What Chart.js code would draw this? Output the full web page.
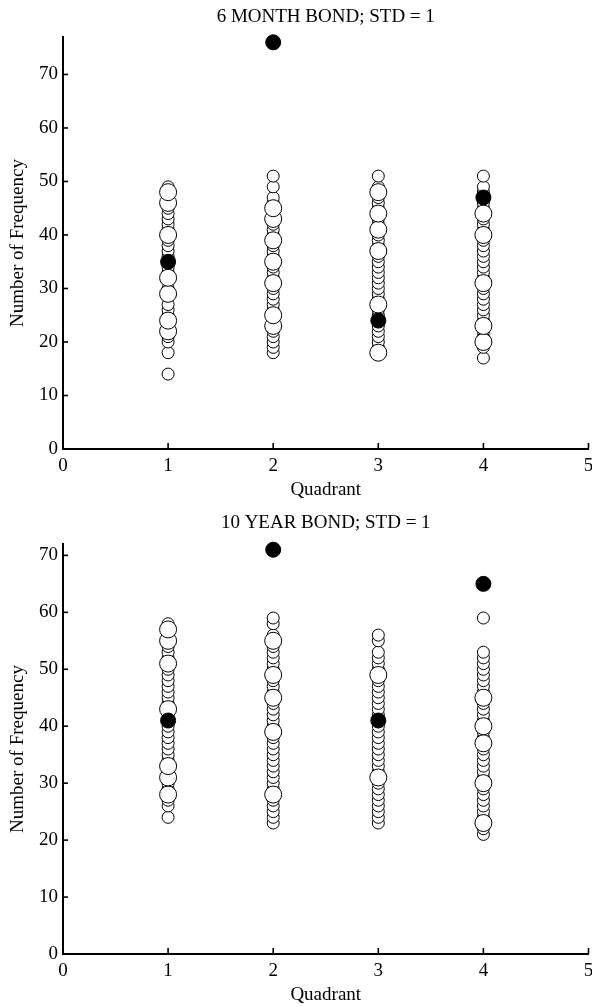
<!DOCTYPE html>
<html>
<head>
<meta charset="utf-8">
<script src="https://cdn.jsdelivr.net/npm/chart.js@4.4.1/dist/chart.umd.min.js"></script>
<style>
  html, body { margin: 0; padding: 0; background: #fff; overflow: hidden; }
  .box { width: 592px; height: 503px; position: relative; overflow: hidden; }
  canvas { display: block; }
</style>
</head>
<body>
<div class="box"><canvas id="c1" width="598" height="503"></canvas></div>
<div class="box"><canvas id="c2" width="598" height="503"></canvas></div>
<script>
// ---------- DATA ----------
const xTicks = [0, 1, 2, 3, 4, 5];
const titles = ['6 MONTH BOND; STD = 1', '10 YEAR BOND; STD = 1'];
const xLabel = 'Quadrant';
const yLabel = 'Number of Frequency';
const yMax6m = 77;
const yMax10y = 72;

// 6 MONTH BOND: values per quadrant (small open, large open, filled)
const m6_q1_small = [14, 18, 20, 21, 23, 25, 26, 27, 29, 30, 32, 33, 34, 36, 37, 38, 39, 41, 42, 43, 44, 45, 47, 48, 49];
const m6_q1_large = [22, 24, 29, 32, 40, 46, 48];
const m6_q1_fill  = [35];
const m6_q2_small = [18, 19, 20, 21, 22, 24, 26, 27, 28, 29, 30, 32, 33, 34, 36, 37, 38, 40, 41, 42, 44, 46, 47, 49, 51];
const m6_q2_large = [23, 25, 31, 35, 39, 43, 45];
const m6_q2_fill  = [76];
const m6_q3_small = [19, 20, 21, 22, 23, 25, 26, 28, 29, 30, 31, 32, 33, 34, 35, 36, 38, 39, 40, 42, 43, 45, 46, 47, 49, 51];
const m6_q3_large = [18, 27, 37, 41, 44, 48];
const m6_q3_fill  = [24];
const m6_q4_small = [17, 19, 21, 22, 24, 25, 26, 27, 28, 29, 30, 32, 33, 34, 35, 36, 37, 38, 39, 41, 42, 43, 45, 46, 48, 49, 51];
const m6_q4_large = [20, 23, 31, 40, 44];
const m6_q4_fill  = [47];

// 10 YEAR BOND
const y10_q1_small = [24, 26, 27, 29, 30, 32, 34, 35, 36, 37, 38, 39, 40, 42, 44, 45, 46, 47, 48, 49, 50, 52, 53, 54, 56, 58];
const y10_q1_large = [28, 31, 33, 43, 51, 55, 57];
const y10_q1_fill  = [41];
const y10_q2_small = [23, 24, 25, 26, 27, 29, 30, 31, 32, 33, 34, 35, 36, 37, 38, 40, 41, 42, 43, 44, 46, 47, 48, 50, 51, 52, 53, 54, 56, 58, 59];
const y10_q2_large = [28, 39, 45, 49, 55];
const y10_q2_fill  = [71];
const y10_q3_small = [23, 24, 25, 26, 27, 28, 29, 30, 32, 33, 34, 35, 36, 37, 38, 39, 40, 42, 43, 44, 45, 46, 47, 48, 50, 51, 52, 53, 55, 56];
const y10_q3_large = [31, 49];
const y10_q3_fill  = [41];
const y10_q4_small = [21, 22, 24, 25, 26, 27, 28, 29, 31, 32, 33, 34, 35, 36, 38, 39, 41, 42, 43, 44, 46, 47, 48, 49, 50, 51, 52, 53, 59];
const y10_q4_large = [23, 30, 37, 40, 45];
const y10_q4_fill  = [65];

// ---------- BUILD ----------
function pts(lists) {
  const out = [];
  lists.forEach((vals, i) => vals.forEach(v => out.push({ x: i + 1, y: v })));
  return out;
}

const FONT = 'Liberation Serif';

const inwardTicks = {
  id: 'inwardTicks',
  afterDraw(chart) {
    const { ctx, chartArea } = chart;
    const xs = chart.scales.x, ys = chart.scales.y;
    ctx.save();
    ctx.strokeStyle = '#000';
    ctx.lineWidth = 1.6;
    xs.ticks.forEach((t, i) => {
      const px = xs.getPixelForTick(i);
      ctx.beginPath();
      ctx.moveTo(px, chartArea.bottom);
      ctx.lineTo(px, chartArea.bottom - 6);
      ctx.stroke();
    });
    ys.ticks.forEach((t, i) => {
      const py = ys.getPixelForTick(i);
      ctx.beginPath();
      ctx.moveTo(chartArea.left, py);
      ctx.lineTo(chartArea.left + 5, py);
      ctx.stroke();
    });
    ctx.restore();
  }
};

function makeChart(id, title, yMax, small, large, fill, titlePad, xHeight, xTitlePadBottom) {
  const base = {
    pointStyle: 'circle',
    borderColor: '#000',
    borderWidth: 1,
    showLine: false,
    clip: false
  };
  return new Chart(document.getElementById(id), {
    type: 'scatter',
    data: {
      datasets: [
        Object.assign({}, base, { label: 'fill', data: pts(fill), backgroundColor: '#000', pointRadius: 7.5, order: 0 }),
        Object.assign({}, base, { label: 'large', data: pts(large), backgroundColor: '#fff', pointRadius: 8.5, order: 1 }),
        Object.assign({}, base, { label: 'small', data: pts(small), backgroundColor: '#fff', pointRadius: 6, order: 2 })
      ]
    },
    options: {
      responsive: false,
      animation: false,
      devicePixelRatio: 1,
      layout: { padding: { left: 0, right: 4, top: 0, bottom: 0 } },
      plugins: {
        legend: { display: false },
        tooltip: { enabled: false },
        title: {
          display: true,
          text: title,
          fullSize: false,
          color: '#000',
          font: { family: FONT, size: 19, weight: 'normal', lineHeight: 1.2 },
          padding: titlePad
        }
      },
      scales: {
        x: {
          type: 'linear',
          min: 0, max: 5,
          afterFit(s) { s.height = xHeight; s.paddingLeft = 0; s.paddingRight = 0; },
          afterBuildTicks(s) { s.ticks = xTicks.map(v => ({ value: v })); },
          grid: { display: false, drawTicks: false },
          border: { display: true, color: '#000', width: 2 },
          ticks: { color: '#000', padding: 5.5, font: { family: FONT, size: 19 }, maxRotation: 0 },
          title: { display: true, text: xLabel, color: '#000', font: { family: FONT, size: 19 }, padding: { top: 0, bottom: xTitlePadBottom } }
        },
        y: {
          type: 'linear',
          min: 0, max: yMax,
          afterFit(s) { s.width = 63; s.paddingTop = 0; s.paddingBottom = 0; },
          grid: { display: false, drawTicks: false },
          border: { display: true, color: '#000', width: 2 },
          ticks: { stepSize: 10, includeBounds: false, color: '#000', padding: 5, font: { family: FONT, size: 19 } },
          title: { display: true, text: yLabel, color: '#000', font: { family: FONT, size: 19 }, padding: { top: 7, bottom: 0 } }
        }
      }
    },
    plugins: [inwardTicks]
  });
}

makeChart('c1', titles[0], yMax6m,
  [m6_q1_small, m6_q2_small, m6_q3_small, m6_q4_small],
  [m6_q1_large, m6_q2_large, m6_q3_large, m6_q4_large],
  [m6_q1_fill, m6_q2_fill, m6_q3_fill, m6_q4_fill],
  { top: 6, bottom: 8.2 }, 54, 1.6);

makeChart('c2', titles[1], yMax10y,
  [y10_q1_small, y10_q2_small, y10_q3_small, y10_q4_small],
  [y10_q1_large, y10_q2_large, y10_q3_large, y10_q4_large],
  [y10_q1_fill, y10_q2_fill, y10_q3_fill, y10_q4_fill],
  { top: 8.6, bottom: 9.6 }, 52, 0);
</script>
</body>
</html>
